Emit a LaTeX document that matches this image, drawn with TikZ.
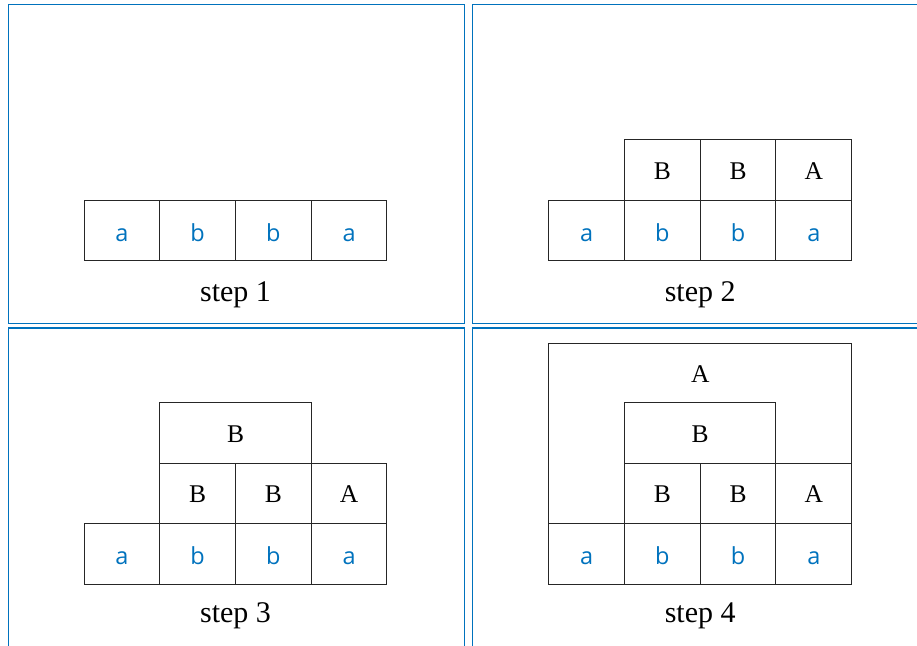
\documentclass[tikz,border=0pt]{standalone}
\usepackage{fontspec}
\setmainfont{Liberation Serif}
\newfontfamily\lettersf{Open Sans}
\definecolor{frameblue}{RGB}{0,114,189}
\tikzset{
  panel/.style={draw=frameblue, line width=1.3pt},
  cell/.style={draw=black!85, line width=1pt, minimum width=75.75pt, minimum height=60.5pt,
    inner sep=0pt, text height=18.2pt, text depth=0pt, font=\fontsize{25.5}{30}\selectfont},
  term/.style={cell, text=frameblue, text height=20.6pt, font=\fontsize{23.5}{28}\lettersf},
  wide/.style={cell, minimum width=151.5pt},
  caption/.style={font=\fontsize{30}{35}\selectfont},
}
\begin{document}
\begin{tikzpicture}[x=1pt, y=-1pt]
\useasboundingbox (0,0) rectangle (917,645);
\clip (0,0) rectangle (917,645);

% step 1
\begin{scope}
  \node[panel, minimum width=456pt, minimum height=318.7pt, anchor=north west, inner sep=0pt] (f1) at (7.7,4) {};
  \node[term] (s1a1) at (121.9,230.7) {a};
  \node[term] (s1b1) at (197.6,230.7) {b};
  \node[term] (s1b2) at (273.4,230.7) {b};
  \node[term] (s1a2) at (349.1,230.7) {a};
  \node[caption] (s1cap) at (235.5,295) {step 1};
\end{scope}

% step 2
\begin{scope}[shift={(464.7,0)}]
  \node[panel, minimum width=456pt, minimum height=318.7pt, anchor=north west, inner sep=0pt] (f2) at (7.3,4) {};
  \node[term] (s2a1) at (121.9,230.7) {a};
  \node[term] (s2b1) at (197.6,230.7) {b};
  \node[term] (s2b2) at (273.4,230.7) {b};
  \node[term] (s2a2) at (349.1,230.7) {a};
  \node[cell] (s2B1) at (197.6,170.2) {B};
  \node[cell] (s2B2) at (273.4,170.2) {B};
  \node[cell] (s2A1) at (349.1,170.2) {A};
  \node[caption] (s2cap) at (235.5,295) {step 2};
\end{scope}

% step 3
\begin{scope}[shift={(0,323.3)}]
  \node[panel, minimum width=456pt, minimum height=318.7pt, anchor=north west, inner sep=0pt] (f3) at (7.7,4) {};
  \node[term] (s3a1) at (121.9,230.7) {a};
  \node[term] (s3b1) at (197.6,230.7) {b};
  \node[term] (s3b2) at (273.4,230.7) {b};
  \node[term] (s3a2) at (349.1,230.7) {a};
  \node[cell] (s3B1) at (197.6,170.2) {B};
  \node[cell] (s3B2) at (273.4,170.2) {B};
  \node[cell] (s3A1) at (349.1,170.2) {A};
  \node[wide] (s3B3) at (235.5,109.7) {B};
  \node[caption] (s3cap) at (235.5,292.5) {step 3};
\end{scope}

% step 4
\begin{scope}[shift={(464.7,323.3)}]
  \node[panel, minimum width=456pt, minimum height=318.7pt, anchor=north west, inner sep=0pt] (f4) at (7.3,4) {};
  % outer A region: its bottom edge is the top of the a b b a row
  \node[minimum width=302.5pt, minimum height=180.75pt, inner sep=0pt, anchor=north west] (s4A2) at (84,19.7) {};
  \draw[draw=black!85, line width=1pt] (s4A2.south west) |- (s4A2.north east) -- (s4A2.south east);
  \node[cell, draw=none, minimum height=20pt] (s4Alab) at (235.5,49.7) {A};
  \node[term] (s4a1) at (121.9,230.7) {a};
  \node[term] (s4b1) at (197.6,230.7) {b};
  \node[term] (s4b2) at (273.4,230.7) {b};
  \node[term] (s4a2) at (349.1,230.7) {a};
  \node[cell] (s4B1) at (197.6,170.2) {B};
  \node[cell] (s4B2) at (273.4,170.2) {B};
  \node[cell] (s4A1) at (349.1,170.2) {A};
  \node[wide] (s4B3) at (235.5,109.7) {B};
  \node[caption] (s4cap) at (235.5,292.5) {step 4};
\end{scope}
\end{tikzpicture}
\end{document}
